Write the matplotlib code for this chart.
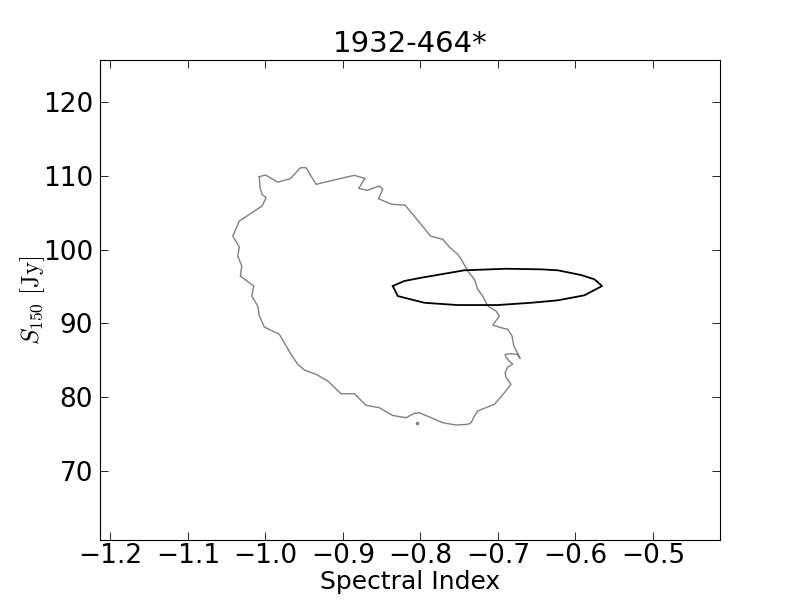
import matplotlib
matplotlib.use('Agg')
import matplotlib.pyplot as plt

# grey contour (traced clockwise from the top-left)
contour_x = [-1.0079, -1.0001, -0.9841, -0.9679, -0.9550, -0.9476, -0.9347, -0.9025,
             -0.8853, -0.8715, -0.8796, -0.8689, -0.8530, -0.8486, -0.8543, -0.8370,
             -0.8199, -0.7957, -0.7872, -0.7712, -0.7627, -0.7519, -0.7476, -0.7390,
             -0.7305, -0.7261, -0.7196, -0.7132, -0.7025, -0.6982, -0.7067, -0.6960,
             -0.6874, -0.6818, -0.6796, -0.6737, -0.6715, -0.6754, -0.6831, -0.6908,
             -0.6895, -0.6809, -0.6874, -0.6908, -0.6895, -0.6831, -0.6917, -0.7046,
             -0.7175, -0.7261, -0.7305, -0.7347, -0.7390, -0.7541, -0.7712, -0.7863,
             -0.8014, -0.8079, -0.8186, -0.8357, -0.8530, -0.8702, -0.8853, -0.9025,
             -0.9196, -0.9347, -0.9498, -0.9583, -0.9670, -0.9821, -1.0014, -1.0079,
             -1.0099, -1.0177, -1.0151, -1.0324, -1.0306, -1.0357, -1.0337, -1.0422,
             -1.0337, -1.0044, -0.9992, -1.0044, -1.0070, -1.0079]
contour_y = [109.88, 110.11, 109.16, 109.61, 111.10, 111.10, 108.85, 109.66,
             110.07, 109.66, 108.31, 108.04, 108.62, 108.17, 106.90, 106.14,
             106.04, 102.97, 101.84, 101.40, 100.35, 99.36, 98.73, 97.10,
             95.98, 94.62, 93.71, 92.36, 91.68, 91.00, 89.78, 89.42,
             89.20, 88.29, 86.94, 85.81, 85.27, 85.81, 85.89, 85.81,
             85.35, 84.46, 84.09, 83.32, 82.64, 81.75, 80.61, 79.04,
             78.50, 78.13, 77.45, 76.54, 76.33, 76.23, 76.54, 77.22,
             77.90, 77.82, 77.22, 77.52, 78.58, 78.90, 80.47, 80.47,
             82.20, 83.10, 83.69, 84.46, 85.81, 88.52, 89.51, 91.00,
             92.36, 93.71, 95.07, 96.42, 97.78, 99.13, 100.35, 101.84,
             103.88, 105.91, 107.03, 107.49, 108.39, 109.88]

# small isolated island below the contour
dot_x = [-0.8044]
dot_y = [76.54]

# black ellipse
ellipse_x = [-0.8357, -0.8293, -0.7950, -0.7519, -0.7003, -0.6573, -0.6228, -0.5885,
             -0.5657, -0.5756, -0.5928, -0.6228, -0.6444, -0.6896, -0.7434, -0.7992,
             -0.8208, -0.8357]
ellipse_y = [95.07, 93.71, 92.80, 92.49, 92.49, 92.80, 93.13, 93.81,
             95.07, 95.98, 96.56, 97.20, 97.33, 97.41, 97.20, 96.19,
             95.75, 95.07]

xticks = [-1.2, -1.1, -1.0, -0.9, -0.8, -0.7, -0.6, -0.5]
yticks = [70, 80, 90, 100, 110, 120]

plt.rcParams['mathtext.fontset'] = 'cm'

fig = plt.figure(figsize=(8, 6), dpi=100)
fig.subplots_adjust(left=0.125, right=0.9, bottom=0.1, top=0.9)
ax = fig.add_subplot(111)

ax.plot(contour_x, contour_y, color='gray', linewidth=1.0)
ax.plot(dot_x, dot_y, marker='o', markersize=1.5, color='gray', linestyle='none')
ax.plot(ellipse_x, ellipse_y, color='black', linewidth=1.3)

ax.set_xlim(-1.2135, -0.4135)
ax.set_ylim(60.65, 125.7)
ax.set_xticks(xticks)
ax.set_yticks(yticks)
ax.tick_params(direction='in', top=True, right=True, labelsize=19,
               length=6, width=0.6)
ax.tick_params(axis='x', pad=2)
ax.tick_params(axis='y', pad=5)

ax.set_title('1932-464*', fontsize=21)
ax.set_xlabel('Spectral Index', fontsize=18, labelpad=1)
ax.set_ylabel(r'$S_{150}\ \mathrm{[Jy]}$', fontsize=18, labelpad=-3)

fig.savefig('out.png', dpi=100)
